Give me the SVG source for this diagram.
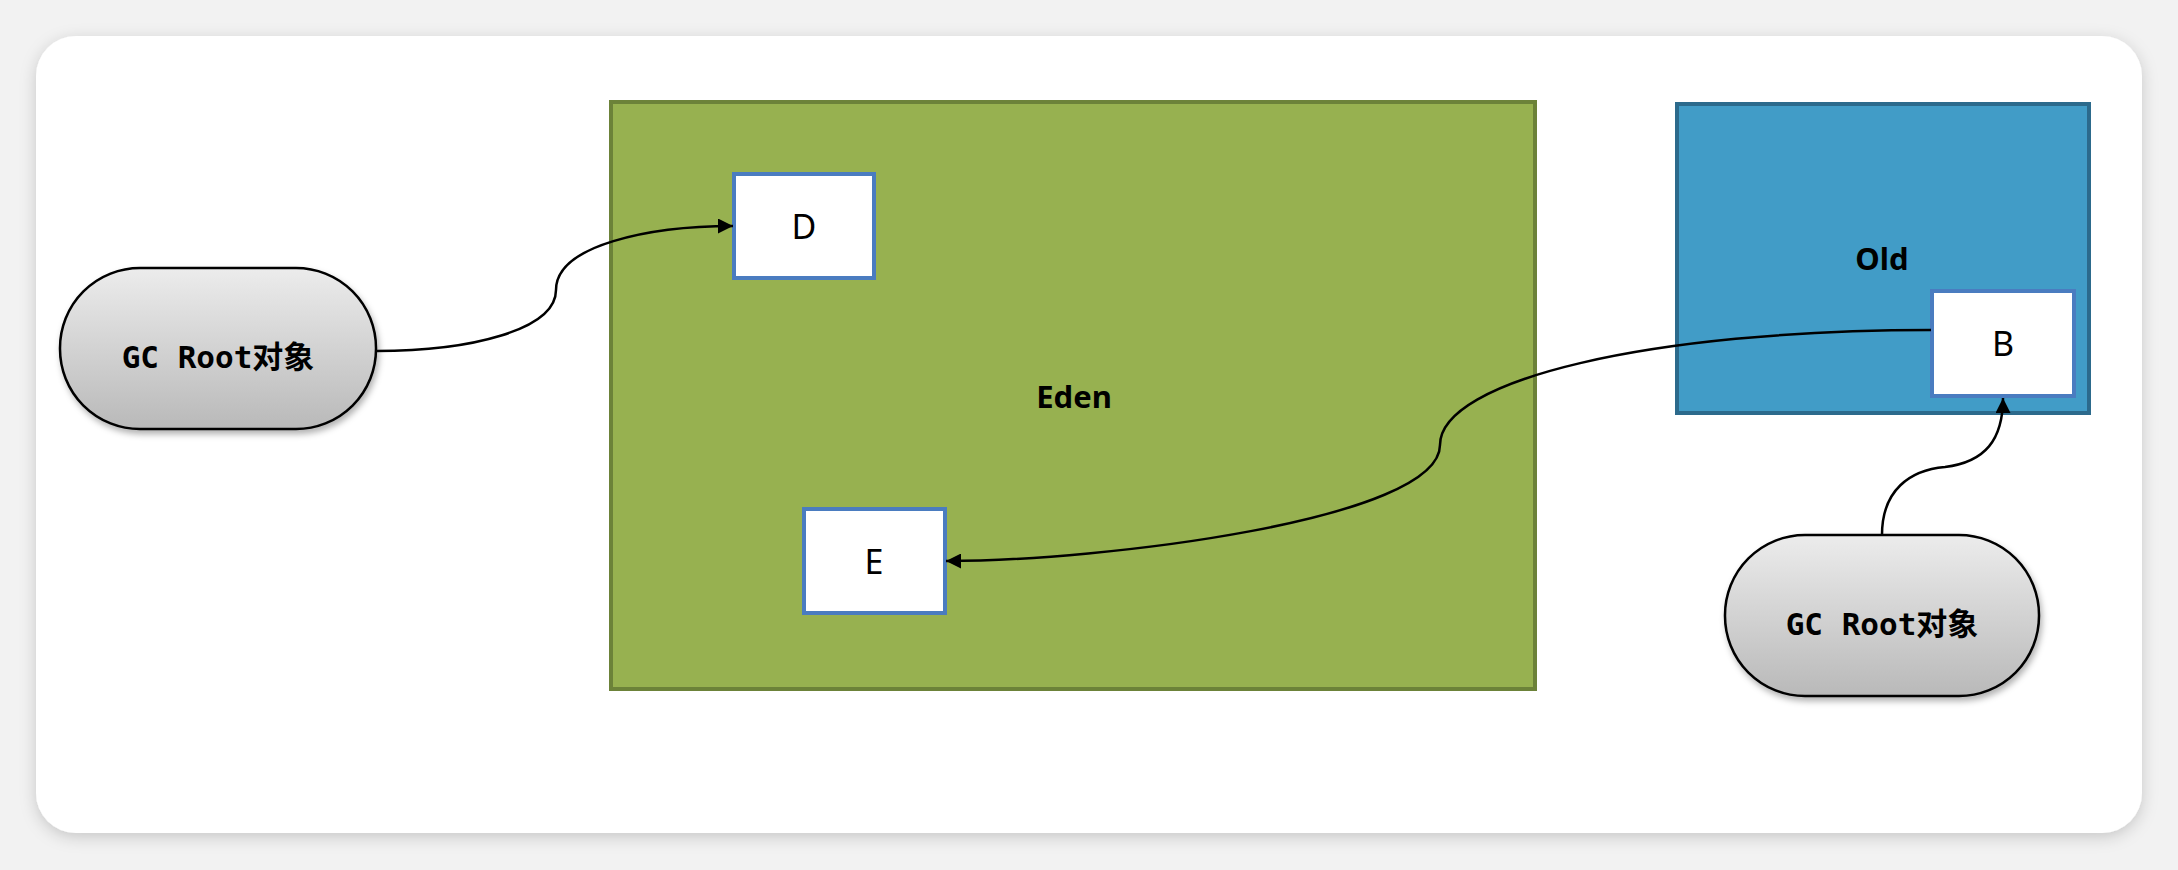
<svg xmlns="http://www.w3.org/2000/svg" width="2178" height="870" viewBox="0 0 2178 870">
<style>
.obj{fill:#ffffff;stroke:#4a7cc0;stroke-width:4}
.objt{font-family:"Noto Sans","Liberation Sans",sans-serif;font-size:34px;fill:#000;text-anchor:middle;dominant-baseline:central}
.area{font-family:"Noto Sans","Liberation Sans",sans-serif;font-size:31px;font-weight:bold;fill:#000;text-anchor:middle;dominant-baseline:central}
.pill{fill:url(#pg);stroke:#000;stroke-width:2.5;filter:url(#ps)}
.pillt{font-family:"DejaVu Sans Mono","Noto Sans CJK SC",monospace;font-size:31px;font-weight:bold;fill:#000;text-anchor:middle;dominant-baseline:central}
.conn{fill:none;stroke:#000;stroke-width:2.5}
</style>
<defs>
<linearGradient id="pg" x1="0" y1="0" x2="0" y2="1">
<stop offset="0" stop-color="#ececec"/>
<stop offset="1" stop-color="#b9b9b9"/>
</linearGradient>
<filter id="ps" x="-10%" y="-10%" width="125%" height="130%">
<feDropShadow dx="2" dy="4" stdDeviation="3" flood-color="#000" flood-opacity="0.3"/>
</filter>
<filter id="cs" x="-5%" y="-5%" width="110%" height="115%">
<feDropShadow dx="0" dy="4" stdDeviation="8" flood-color="#000" flood-opacity="0.18"/>
</filter>
<marker id="ah" viewBox="0 0 10 10" refX="10" refY="5" markerWidth="6" markerHeight="6" markerUnits="strokeWidth" orient="auto">
<path d="M0,0 L10,5 L0,10 z" fill="#000"/>
</marker>
</defs>
<rect x="0" y="0" width="2178" height="870" fill="#f2f2f2"/>
<rect x="36" y="36" width="2106" height="797" rx="40" fill="#ffffff" filter="url(#cs)"/>
<g id="eden">
<rect x="611" y="102" width="924" height="587" fill="#97b150" stroke="#6c8239" stroke-width="4"/>
<text class="area" x="1074" y="396">Eden</text>
</g>
<g id="old">
<rect x="1677" y="104" width="412" height="309" fill="#419cc7" stroke="#2c6a8c" stroke-width="4"/>
<text class="area" x="1882" y="258">Old</text>
</g>
<g id="D">
<rect class="obj" x="734" y="174" width="140" height="104"/>
<text class="objt" x="804" y="226">D</text>
</g>
<g id="E">
<rect class="obj" x="804" y="509" width="141" height="104"/>
<text class="objt" x="874" y="561">E</text>
</g>
<g id="B">
<rect class="obj" x="1932" y="291" width="142" height="105"/>
<text class="objt" x="2003" y="343">B</text>
</g>
<g id="gcroot1">
<rect class="pill" x="60" y="268" width="316" height="161" rx="80" ry="80"/>
<text class="pillt" x="218" y="357">GC Root对象</text>
</g>
<g id="gcroot2">
<rect class="pill" x="1725" y="535" width="314" height="161" rx="80" ry="80"/>
<text class="pillt" x="1882" y="624">GC Root对象</text>
</g>
<g id="connectors">
<path class="conn" marker-end="url(#ah)" d="M376,351 C470,351 556,330 556,290 C556,245 650,226 733,226"/>
<path class="conn" marker-end="url(#ah)" d="M1931,330 C1650,330 1440,380 1440,445 C1440,520 1100,561 946,561"/>
<path class="conn" marker-end="url(#ah)" d="M1882,535 C1882,490 1910,470 1945,467 C1985,462 2003,440 2003,398"/>
</g>
</svg>
